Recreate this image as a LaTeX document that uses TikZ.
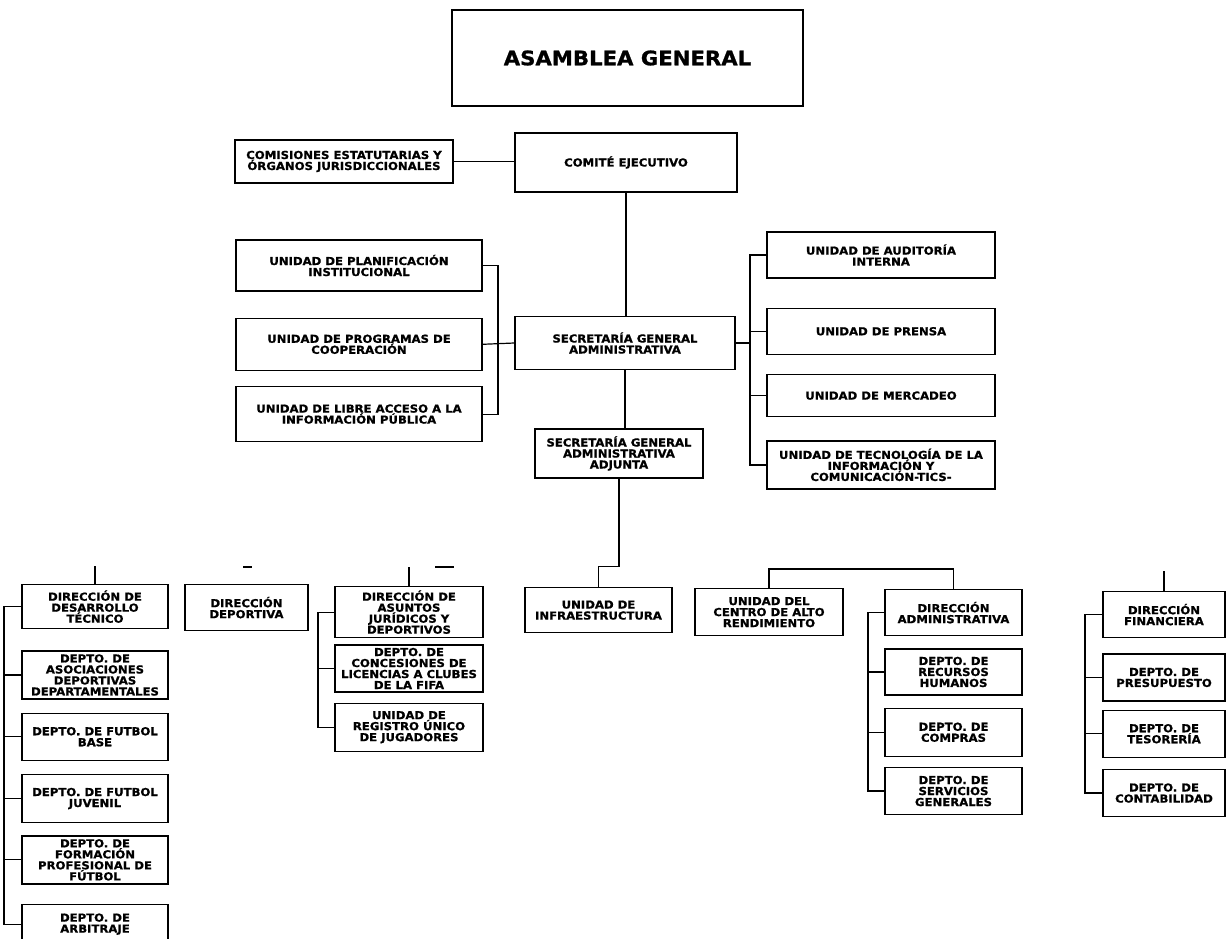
\documentclass[tikz,border=0pt]{standalone}
\usepackage{fontspec}
\setmainfont{DejaVu Sans}[FakeStretch=1.06,BoldFeatures={FakeBold=1}]
\usepackage{tikz}
\usetikzlibrary{positioning}

\tikzset{
  unit/.style={draw, line width=1.3pt, align=center, inner sep=1.5pt,
    font=\bfseries\fontsize{11}{11}\selectfont},
  link/.style={line width=1.2pt}
}

\begin{document}
\begin{tikzpicture}[x=1pt,y=-1pt,node distance=12pt]

  \useasboundingbox (0,0) rectangle (1227,939);

  \node[unit,minimum width=351pt,minimum height=96pt,
    font=\bfseries\fontsize{20}{22}\selectfont]       (asamblea)   at (627.5,58)   {ASAMBLEA GENERAL};
  \node[unit,minimum width=218pt,minimum height=43pt] (comisiones) at (344,161.5)  {COMISIONES ESTATUTARIAS Y\\ÓRGANOS JURISDICCIONALES};
  \node[unit,minimum width=222pt,minimum height=59pt] (comite)     at (626,162.5)  {COMITÉ EJECUTIVO};

  \node[unit,minimum width=246pt,minimum height=51pt] (planif)     at (359,265.5)  {UNIDAD DE PLANIFICACIÓN\\INSTITUCIONAL};
  \node[unit,minimum width=246pt,minimum height=52pt] (programas)  [below=26pt of planif]    {UNIDAD DE PROGRAMAS DE\\COOPERACIÓN};
  \node[unit,minimum width=246pt,minimum height=55pt] (libre)      [below=15pt of programas] {UNIDAD DE LIBRE ACCESO A LA\\INFORMACIÓN PÚBLICA};

  \node[unit,minimum width=220pt,minimum height=53pt] (sga)        at (625,343)    {SECRETARÍA GENERAL\\ADMINISTRATIVA};
  \node[unit,minimum width=168pt,minimum height=49pt] (adjunta)    at (619,453.5)  {SECRETARÍA GENERAL\\ADMINISTRATIVA\\ADJUNTA};

  \node[unit,minimum width=228pt,minimum height=46pt] (auditoria)  at (881,255)    {UNIDAD DE AUDITORÍA\\INTERNA};
  \node[unit,minimum width=228pt,minimum height=46pt] (prensa)     [below=29pt of auditoria] {UNIDAD DE PRENSA};
  \node[unit,minimum width=228pt,minimum height=42pt] (mercadeo)   [below=19pt of prensa]    {UNIDAD DE MERCADEO};
  \node[unit,minimum width=228pt,minimum height=48pt] (tics)       [below=23pt of mercadeo]  {UNIDAD DE TECNOLOGÍA DE LA\\INFORMACIÓN Y\\COMUNICACIÓN-TICS-};

  \node[unit,anchor=north,minimum width=146pt,minimum height=44pt] (desarrollo) at (95,584) {DIRECCIÓN DE\\DESARROLLO\\TÉCNICO};
  \node[unit,minimum width=146pt,minimum height=48pt] (asociaciones) [below=21pt of desarrollo]   {DEPTO. DE\\ASOCIACIONES\\DEPORTIVAS\\DEPARTAMENTALES};
  \node[unit,minimum width=146pt,minimum height=47pt] (base)         [below=13pt of asociaciones] {DEPTO. DE FUTBOL\\BASE};
  \node[unit,minimum width=146pt,minimum height=48pt] (juvenil)      [below=13pt of base]         {DEPTO. DE FUTBOL\\JUVENIL};
  \node[unit,minimum width=146pt,minimum height=48pt] (formacion)    [below=12pt of juvenil]      {DEPTO. DE\\FORMACIÓN\\PROFESIONAL DE\\FÚTBOL};
  \node[unit,minimum width=146pt,minimum height=40pt] (arbitraje)    [below=19pt of formacion]    {DEPTO. DE\\ARBITRAJE};

  \node[unit,anchor=north,minimum width=123pt,minimum height=46pt] (deportiva) at (246.5,584) {DIRECCIÓN\\DEPORTIVA};

  \node[unit,anchor=north,minimum width=148pt,minimum height=51pt] (juridicos) at (409,586) {DIRECCIÓN DE\\ASUNTOS\\JURÍDICOS Y\\DEPORTIVOS};
  \node[unit,minimum width=148pt,minimum height=47pt] (concesiones)  [below=6pt of juridicos]     {DEPTO. DE\\CONCESIONES DE\\LICENCIAS A CLUBES\\DE LA FIFA};
  \node[unit,minimum width=148pt,minimum height=48pt] (registro)     [below=10pt of concesiones]  {UNIDAD DE\\REGISTRO ÚNICO\\DE JUGADORES};

  \node[unit,anchor=north,minimum width=147pt,minimum height=45pt] (infra)  at (598.5,587) {UNIDAD DE\\INFRAESTRUCTURA};
  \node[unit,anchor=north,minimum width=148pt,minimum height=47pt] (centro) at (769,588)   {UNIDAD DEL\\CENTRO DE ALTO\\RENDIMIENTO};

  \node[unit,anchor=north,minimum width=137pt,minimum height=46pt] (administrativa) at (953.5,589) {DIRECCIÓN\\ADMINISTRATIVA};
  \node[unit,minimum width=137pt,minimum height=46pt] (rrhh)         [below=12pt of administrativa] {DEPTO. DE\\RECURSOS\\HUMANOS};
  \node[unit,minimum width=137pt,minimum height=48pt] (compras)      [below=12pt of rrhh]           {DEPTO. DE\\COMPRAS};
  \node[unit,minimum width=137pt,minimum height=47pt] (servicios)    [below=10pt of compras]        {DEPTO. DE\\SERVICIOS\\GENERALES};

  \node[unit,anchor=north,minimum width=122pt,minimum height=46pt] (financiera) at (1164,591) {DIRECCIÓN\\FINANCIERA};
  \node[unit,minimum width=122pt,minimum height=47pt] (presupuesto)  [below=15pt of financiera]  {DEPTO. DE\\PRESUPUESTO};
  \node[unit,minimum width=122pt,minimum height=47pt] (tesoreria)    [below=8pt of presupuesto]  {DEPTO. DE\\TESORERÍA};
  \node[unit,minimum width=122pt,minimum height=47pt] (contabilidad) [below=11pt of tesoreria]   {DEPTO. DE\\CONTABILIDAD};

  \coordinate (lbus) at (498,0);
  \coordinate (rbus) at (750,0);
  \coordinate (dbus) at (4,0);
  \coordinate (jbus) at (318,0);
  \coordinate (abus) at (868,0);
  \coordinate (fbus) at (1085,0);
  \coordinate (depdash) at (243,567);
  \coordinate (jurdash) at (435,567);

  \draw[link] (comisiones.east) -- (comisiones.east -| comite.west);
  \draw[link] (comite.south) -- (comite.south |- sga.north);
  \draw[link] (sga.south) -- (sga.south |- adjunta.north);

  \draw[link] (planif.east) -- (planif.east -| lbus) -- (libre.east -| lbus) -- (libre.east);
  \draw[link] (programas.east) -- (sga.west);

  \draw[link] (auditoria.west) -- (auditoria.west -| rbus) -- (tics.west -| rbus) -- (tics.west);
  \draw[link] (sga.east) -- (sga.east -| rbus);
  \foreach \n in {prensa,mercadeo}
    \draw[link] (\n.west) -- (\n.west -| rbus);

  \draw[link] (adjunta.south) -- ++(0,88) -| (infra.north);

  \draw[link] (desarrollo.north) -- ++(0,-18);
  \draw[link] (depdash) -- ++(9,0);
  \draw[link] (juridicos.north) -- ++(0,-19);
  \draw[link] (jurdash) -- ++(19,0);
  \draw[link] (centro.north) -- ++(0,-19) -| (administrativa.north);
  \draw[link] (financiera.north) -- ++(0,-20);

  \draw[link] (desarrollo.west) -- (desarrollo.west -| dbus) -- (arbitraje.west -| dbus) -- (arbitraje.west);
  \foreach \n in {asociaciones,base,juvenil,formacion}
    \draw[link] (\n.west) -- (\n.west -| dbus);

  \draw[link] (juridicos.west) -- (juridicos.west -| jbus) -- (registro.west -| jbus) -- (registro.west);
  \draw[link] (concesiones.west) -- (concesiones.west -| jbus);

  \draw[link] (administrativa.west) -- (administrativa.west -| abus) -- (servicios.west -| abus) -- (servicios.west);
  \foreach \n in {rrhh,compras}
    \draw[link] (\n.west) -- (\n.west -| abus);

  \draw[link] (financiera.west) -- (financiera.west -| fbus) -- (contabilidad.west -| fbus) -- (contabilidad.west);
  \foreach \n in {presupuesto,tesoreria}
    \draw[link] (\n.west) -- (\n.west -| fbus);

\end{tikzpicture}
\end{document}
